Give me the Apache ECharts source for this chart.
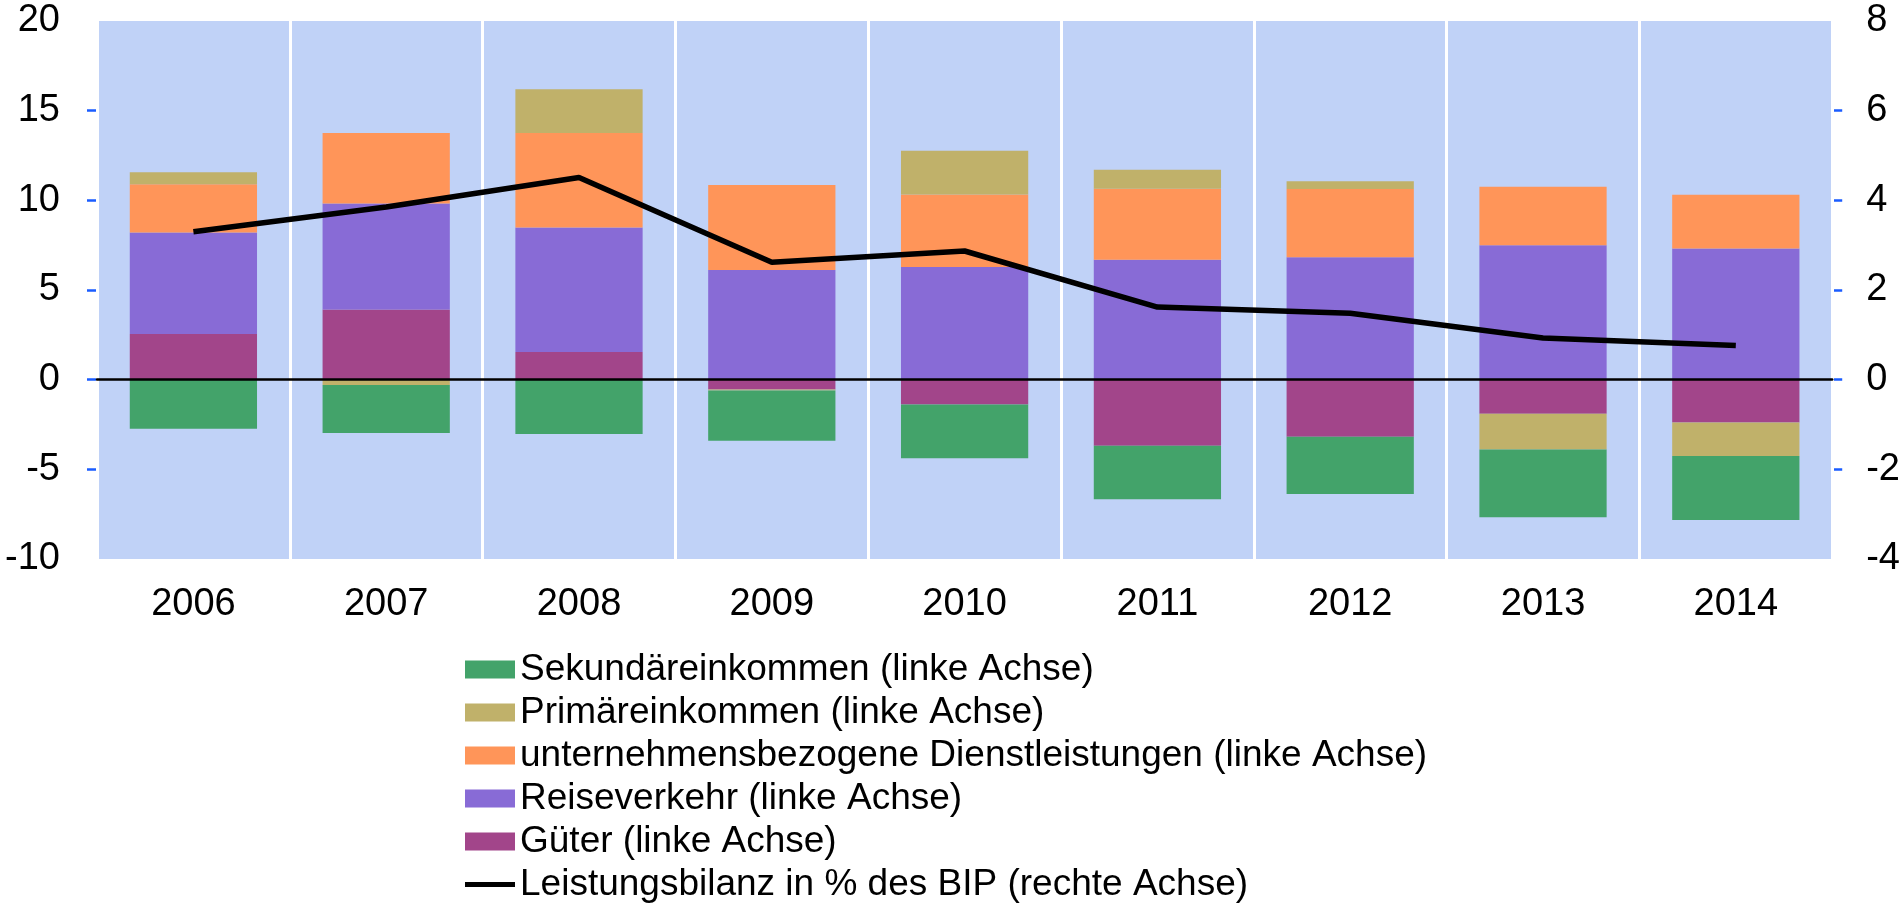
<!DOCTYPE html>
<html lang="de">
<head>
    <meta charset="UTF-8">
    <title>Leistungsbilanz</title>
    <script src="https://cdn.jsdelivr.net/npm/echarts@6/dist/echarts.min.js"></script>
    <style>
        html, body { margin: 0; padding: 0; background: #fff; }
        #chart1 { width: 1903px; height: 903px; }
    </style>
</head>
<body>
<div id="chart1"></div>
<script>
    var years = ['2006', '2007', '2008', '2009', '2010', '2011', '2012', '2013', '2014'];

    // linke Achse
    var gueter = [2.54, 3.91, 1.54, -0.55, -1.39, -3.68, -3.18, -1.90, -2.39];
    var reise = [5.67, 5.92, 6.94, 6.11, 6.28, 6.69, 6.83, 7.50, 7.32];
    var dienst = [2.69, 3.93, 5.28, 4.74, 4.04, 3.95, 3.80, 3.26, 2.99];
    var primaer = [0.66, -0.30, 2.44, -0.05, 2.44, 1.07, 0.43, -1.99, -1.86];
    var sekundaer = [-2.74, -2.67, -3.03, -2.80, -2.99, -2.99, -3.20, -3.78, -3.57];
    // rechte Achse
    var bilanz = [3.30, 3.85, 4.51, 2.62, 2.87, 1.62, 1.48, 0.93, 0.76];

    var leftTicks = [-5, 0, 5, 10, 15];
    var rightTicks = [-2, 0, 2, 4, 6];

    var fontName = 'Liberation Sans, Arial, sans-serif';

    function bar(name, data, color) {
        return {
            name: name,
            type: 'bar',
            stack: 'total',
            data: data,
            barCategoryGap: '34%',
            itemStyle: { color: color },
            emphasis: { disabled: true }
        };
    }

    var ctx1 = echarts.init(document.getElementById('chart1'));
    ctx1.setOption({
        animation: false,
        textStyle: { fontFamily: fontName },
        grid: {
            left: 97, right: 66, top: 21, bottom: 344,
            show: true, backgroundColor: '#C0D2F7', borderWidth: 0
        },
        legend: {
            orient: 'vertical',
            left: 465,
            top: 651,
            padding: 0,
            height: 260,
            itemWidth: 50,
            itemHeight: 18,
            itemGap: 6,
            textStyle: { fontSize: 37, lineHeight: 36, color: '#000', fontFamily: fontName },
            data: [
                { name: 'Sekundäreinkommen (linke Achse)', icon: 'rect' },
                { name: 'Primäreinkommen (linke Achse)', icon: 'rect' },
                { name: 'unternehmensbezogene Dienstleistungen (linke Achse)', icon: 'rect' },
                { name: 'Reiseverkehr (linke Achse)', icon: 'rect' },
                { name: 'Güter (linke Achse)', icon: 'rect' },
                { name: 'Leistungsbilanz in % des BIP (rechte Achse)', icon: 'path://M0,0 H50 V5 H0 Z', itemStyle: { color: '#000' } }
            ]
        },
        xAxis: {
            type: 'category',
            data: years,
            axisLine: { onZero: true, lineStyle: { color: '#000', width: 2.5 } },
            axisTick: { show: false },
            axisLabel: { fontSize: 38, color: '#000', margin: 27 },
            splitLine: { show: true, lineStyle: { color: '#fff', width: 3 } },
            z: 5
        },
        yAxis: [{
            type: 'value',
            min: -10, max: 20, interval: 5,
            axisLine: { show: false },
            axisTick: { show: true, length: 10, customValues: leftTicks, lineStyle: { color: '#1A5CFF', width: 2.5 } },
            axisLabel: { fontSize: 38, color: '#000', margin: 37 },
            splitLine: { show: false }
        }, {
            type: 'value',
            min: -4, max: 8, interval: 2,
            position: 'right',
            axisLine: { show: false },
            axisTick: { show: true, length: 10, customValues: rightTicks, lineStyle: { color: '#1A5CFF', width: 2.5 } },
            axisLabel: { fontSize: 38, color: '#000', margin: 34 },
            splitLine: { show: false }
        }],
        series: [
            bar('Güter (linke Achse)', gueter, '#A2458A'),
            bar('Reiseverkehr (linke Achse)', reise, '#886BD6'),
            bar('unternehmensbezogene Dienstleistungen (linke Achse)', dienst, '#FF9559'),
            bar('Primäreinkommen (linke Achse)', primaer, '#C0B16A'),
            bar('Sekundäreinkommen (linke Achse)', sekundaer, '#43A36A'),
            {
                name: 'Leistungsbilanz in % des BIP (rechte Achse)',
                type: 'line',
                yAxisIndex: 1,
                data: bilanz,
                symbol: 'none',
                lineStyle: { color: '#000', width: 5.5 },
                itemStyle: { color: '#000' },
                z: 10
            }
        ]
    });
</script>
</body>
</html>
